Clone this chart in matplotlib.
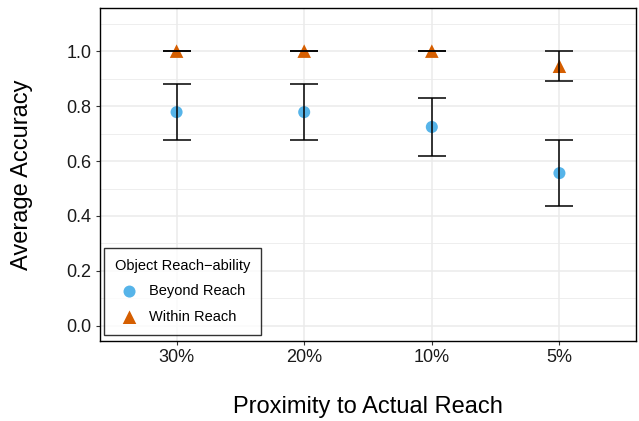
import numpy as np
import matplotlib
matplotlib.use("Agg")
import matplotlib.pyplot as plt
from matplotlib.ticker import MultipleLocator

plt.rcParams['font.family'] = ['Liberation Sans', 'DejaVu Sans']

proximity = ["30%", "20%", "10%", "5%"]
beyond_mean = [0.778, 0.778, 0.724, 0.556]
beyond_err = [0.101, 0.101, 0.107, 0.120]
within_mean = [1.0, 1.0, 1.0, 0.945]
within_err = [0.0, 0.0, 0.0, 0.055]

W, H = 639, 421
fig = plt.figure(figsize=(W / 100, H / 100), dpi=100)
ax = fig.add_axes([100 / W, 80 / H, 536 / W, 333 / H])

x = np.arange(1, len(proximity) + 1)

ax.errorbar(x, beyond_mean, yerr=beyond_err, fmt='none', ecolor='black',
            elinewidth=1.1, capsize=10, capthick=1.1, zorder=3)
ax.errorbar(x, within_mean, yerr=within_err, fmt='none', ecolor='black',
            elinewidth=1.1, capsize=10, capthick=1.1, zorder=3)
ax.scatter(x, beyond_mean, s=75, color='#56B4E9', marker='o',
           edgecolors='none', label='Beyond Reach', zorder=2)
ax.scatter(x, within_mean, s=95, color='#D55E00', marker='^',
           edgecolors='none', label='Within Reach', zorder=2)

ax.set_xlim(0.4, 4.6)
ax.set_ylim(-0.055, 1.157)
ax.set_xticks(x)
ax.set_xticklabels(proximity)
ax.yaxis.set_minor_locator(MultipleLocator(0.1))
ax.set_yticks(np.arange(0, 1.01, 0.2))
ax.set_yticklabels(["0.0", "0.2", "0.4", "0.6", "0.8", "1.0"])

ax.grid(True, which='major', color='#EBEBEB', linewidth=1.1, zorder=0)
ax.grid(True, which='minor', axis='y', color='#EBEBEB', linewidth=0.6, zorder=0)
ax.set_axisbelow(True)
for sp in ax.spines.values():
    sp.set_color('black')
    sp.set_linewidth(1.0)

ax.tick_params(axis='both', which='major', length=3, color='#333333',
               labelsize=13, labelcolor='#1a1a1a', pad=3)
ax.tick_params(axis='y', which='minor', length=0)

fig.text(368 / W, 1 - 407 / H, 'Proximity to Actual Reach', fontsize=17,
         ha='center', va='center')
fig.text(22 / W, 1 - 175 / H, 'Average Accuracy', fontsize=17,
         ha='center', va='center', rotation=90)

leg = ax.legend(title='Object Reach\u2212ability', loc='lower left',
                bbox_to_anchor=(104 / W, 1 - 335 / H),
                bbox_transform=fig.transFigure,
                fontsize=10.5, title_fontsize=10.5,
                frameon=True, fancybox=False, edgecolor='black',
                borderpad=0.75, labelspacing=0.8, handletextpad=0.35,
                borderaxespad=0, markerscale=1.0)
leg.get_frame().set_linewidth(1.0)
leg._legend_box.align = "left"

fig.savefig('out.png', dpi=100)
